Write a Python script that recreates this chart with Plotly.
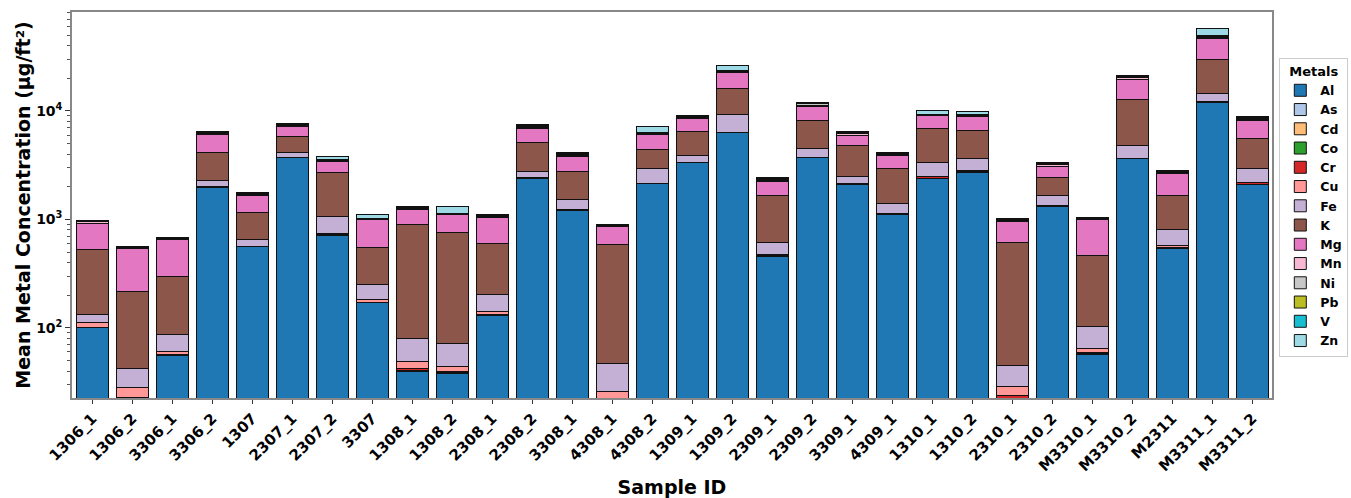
import plotly.graph_objects as go

samples = ["1306_1", "1306_2", "3306_1", "3306_2", "1307", "2307_1", "2307_2", "3307",
           "1308_1", "1308_2", "2308_1", "2308_2", "3308_1", "4308_1", "4308_2", "1309_1",
           "1309_2", "2309_1", "2309_2", "3309_1", "4309_1", "1310_1", "1310_2", "2310_1",
           "2310_2", "M3310_1", "M3310_2", "M2311", "M3311_1", "M3311_2"]

Al = [100, 21, 56, 1977, 562, 3698, 706, 170, 40, 38.3, 131, 2383, 1206, 21, 2128, 3325,
      6318, 454, 3698, 2095, 1105, 2366, 2723, 22, 1319, 57, 3622, 543, 11970, 2095]
As = [0.3, 0.2, 0.2, 3, 1, 5, 2, 0.5, 0.3, 0.3, 0.4, 4, 2, 0.1, 3, 5,
      10, 1, 5, 3, 2, 4, 4, 0.1, 2, 0.3, 5, 1, 15, 3]
Cd = [0.1, 0.1, 0.1, 1, 0.3, 1, 0.5, 0.2, 0.1, 0.1, 0.2, 1, 0.5, 0.1, 1, 1,
      2, 0.5, 1, 1, 0.5, 1, 1, 0.1, 0.5, 0.1, 1, 0.5, 3, 1]
Co = [0.2, 0.1, 0.2, 2, 0.7, 3, 1.5, 0.3, 0.2, 0.2, 0.4, 2, 1.5, 0.1, 2, 3,
      5, 0.5, 3, 2, 1.5, 3, 3, 0.1, 1.5, 0.2, 3, 0.5, 8, 2]
Cr = [1, 1.6, 0.5, 5, 2, 10, 18, 2, 1.4, 1.1, 1, 10, 8, 0.3, 15, 15,
      30, 5, 15, 15, 8, 112, 44, 1.5, 8, 1.3, 20, 3, 60, 95]
Cu = [9.5, 5.2, 4.2, 10, 3, 15, 20, 10, 7.2, 4.5, 8, 15, 10, 4.5, 15, 20,
      30, 10, 20, 15, 8, 14, 50, 5, 10, 5.5, 25, 26, 60, 12]
Fe = [22, 14.4, 25.6, 298, 89, 389, 318, 71, 30.5, 28.1, 63, 334, 293, 21.3, 767, 548,
      2790, 141, 742, 369, 272, 873, 823, 16.4, 315, 37.6, 1132, 229, 2374, 723]
K = [392, 176, 209, 1873, 503, 1674, 1626, 301, 813, 685, 400, 2415, 1260, 544, 1484, 2613,
     7035, 1055, 3720, 2308, 1554, 3501, 2989, 567, 793, 359, 8012, 853, 15160, 2617]
Mg = [402, 324, 362, 1911, 495, 1466, 705, 438, 355, 347, 448, 1710, 1049, 270, 1665, 2019,
      6470, 582, 2786, 1148, 939, 2121, 2236, 346, 648, 532, 6820, 993, 17120, 2544]
Mn = [20, 8, 10, 150, 40, 150, 60, 8, 20, 15, 20, 200, 80, 10, 80, 180,
      400, 50, 300, 180, 90, 120, 150, 20, 100, 18, 500, 70, 1000, 250]
Ni = [12, 5, 7, 120, 30, 100, 50, 6, 15, 12, 15, 180, 70, 8, 70, 150,
      300, 40, 300, 150, 80, 100, 110, 12, 80, 12, 400, 50, 800, 220]
Pb = [8, 3, 5, 80, 20, 80, 40, 4, 10, 8, 10, 120, 50, 5, 50, 100,
      250, 30, 150, 100, 50, 60, 80, 10, 50, 8, 250, 40, 500, 150]
V = [3, 1, 2, 40, 10, 40, 26, 3, 6, 6, 5, 60, 30, 3, 38, 50,
     190, 16, 80, 50, 25, 35, 37, 4, 20, 4, 150, 15, 370, 80]
Zn = [10, 3, 5, 60, 22, 60, 265, 91, 20, 157, 20, 96, 60, 6, 797, 91,
      2290, 30, 150, 49, 35, 690, 540, 10, 26, 10, 440, 20, 7680, 81]

metals = ["Al", "As", "Cd", "Co", "Cr", "Cu", "Fe", "K", "Mg", "Mn", "Ni", "Pb", "V", "Zn"]
values = [Al, As, Cd, Co, Cr, Cu, Fe, K, Mg, Mn, Ni, Pb, V, Zn]
colors = ["#1f77b4", "#aec7e8", "#ffbb78", "#2ca02c", "#d62728", "#ff9896", "#c5b0d5",
          "#8c564b", "#e377c2", "#f7b6d2", "#c7c7c7", "#bcbd22", "#17becf", "#9edae5"]

y_major = [100, 1000, 10000]
y_major_text = ["<b>10<sup>2</sup></b>", "<b>10<sup>3</sup></b>", "<b>10<sup>4</sup></b>"]
y_minor = [m * 10 ** e for e in range(1, 5) for m in range(2, 10)]

FONT = "DejaVu Sans"

fig = go.Figure()
for name, vals, col in zip(metals, values, colors):
    fig.add_trace(go.Bar(
        x=samples, y=vals, name=f"<b>{name}</b>",
        marker=dict(color=col, line=dict(color="#111111", width=1)),
    ))

fig.update_layout(
    width=1351, height=498,
    barmode="stack", bargap=0.2,
    plot_bgcolor="white", paper_bgcolor="white",
    margin=dict(l=72, r=79, t=12, b=100),
    font=dict(family=FONT, color="black"),
    legend=dict(
        title=dict(text="<b>Metals</b>", font=dict(size=13, family=FONT), side="top center"),
        xref="container", yref="container",
        x=0.998, xanchor="right", y=0.884, yanchor="top",
        maxheight=420,
        bordercolor="#cccccc", borderwidth=1,
        font=dict(size=12.5, family=FONT),
        traceorder="normal",
        tracegroupgap=0, itemwidth=30,
    ),
)

fig.update_xaxes(
    type="category", automargin=False,
    tickmode="array", tickvals=samples, ticktext=[f"<b>{s}</b>" for s in samples],
    tickangle=-45, tickfont=dict(size=15, family=FONT),
    ticks="outside", ticklen=4, tickcolor="#333333",
    showline=True, linecolor="#888888", linewidth=1.5, mirror=True,
    range=[-0.51, 29.49],
    title=dict(text="<b>Sample ID</b>", font=dict(size=19, family=FONT), standoff=12),
)
fig.update_yaxes(
    type="log", range=[1.354, 4.912], automargin=False,
    tickmode="array", tickvals=y_major, ticktext=y_major_text,
    tickfont=dict(size=14, family=FONT),
    ticks="outside", ticklen=5, tickcolor="#333333",
    minor=dict(ticks="outside", ticklen=3, tickcolor="#555555", showgrid=False,
               tickmode="array", tickvals=y_minor),
    showgrid=False,
    showline=True, linecolor="#888888", linewidth=1.5, mirror=True,
    title=dict(text="<b>Mean Metal Concentration (µg/ft²)</b>", font=dict(size=19, family=FONT), standoff=0),
)

fig.write_html(
    "out.html",
    config={"displayModeBar": False},
    post_script="document.body.style.margin='0';document.body.style.overflow='hidden';",
)
